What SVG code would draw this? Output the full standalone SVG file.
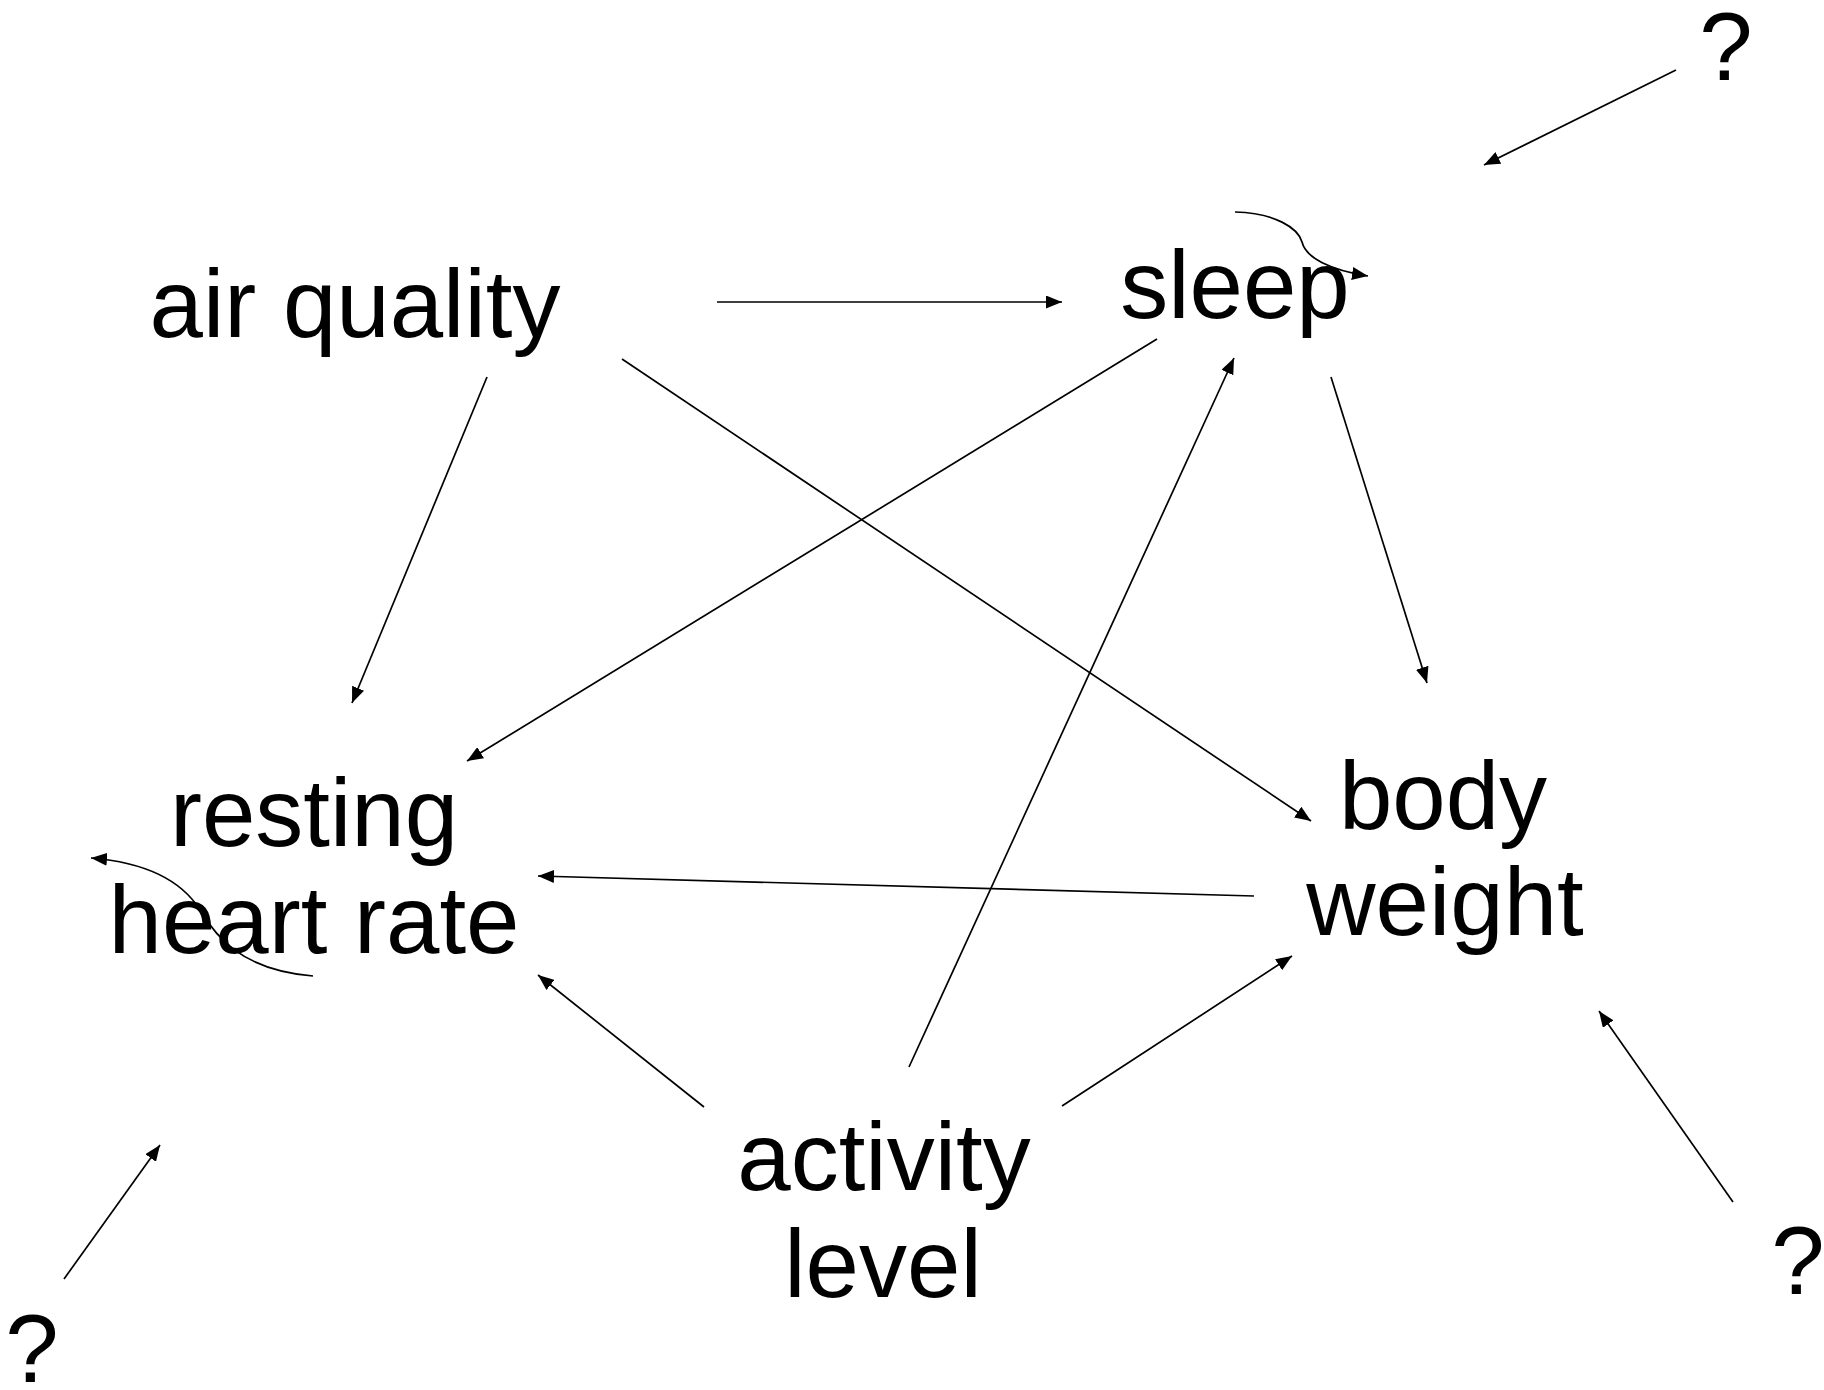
<svg xmlns="http://www.w3.org/2000/svg" width="1824" height="1390" viewBox="0 0 1824 1390">
<style>
.lbl{font-family:"Liberation Sans",Arial,sans-serif;font-size:96px;fill:#000;text-anchor:middle}
.e{stroke:#000;stroke-width:1.7;fill:none;marker-end:url(#ah)}
</style>
<defs>
<marker id="ah" markerUnits="userSpaceOnUse" markerWidth="17" markerHeight="13" refX="16" refY="6.5" orient="auto">
<path d="M0,0 L16,6.5 L0,13 z" fill="#000"/>
</marker>
</defs>
<rect width="1824" height="1390" fill="#fff"/>
<g id="connectors">
<line class="e" x1="717" y1="302" x2="1062" y2="302"/>
<line class="e" x1="487" y1="377" x2="352" y2="703"/>
<line class="e" x1="622" y1="359" x2="1311" y2="821"/>
<line class="e" x1="1157" y1="339" x2="467" y2="761"/>
<line class="e" x1="1331" y1="377" x2="1427" y2="683"/>
<line class="e" x1="909" y1="1067" x2="1234" y2="358"/>
<line class="e" x1="1254" y1="896" x2="538" y2="876"/>
<line class="e" x1="704" y1="1107" x2="538" y2="975"/>
<line class="e" x1="1062" y1="1106" x2="1292" y2="956"/>
<line class="e" x1="1676" y1="70" x2="1484" y2="165"/>
<line class="e" x1="64" y1="1279" x2="160" y2="1145"/>
<line class="e" x1="1733" y1="1202" x2="1599" y2="1011"/>
<path class="e" d="M1235,212 C1275,213 1298,228 1302,242 C1306,258 1330,270 1368,276"/>
<path class="e" d="M313,976 C240,970 215,935 200,910 C180,878 140,862 91,858"/>
</g>
<g id="air_quality"><text class="lbl" x="355" y="337">air quality</text></g>
<g id="sleep"><text class="lbl" x="1235" y="318">sleep</text></g>
<g id="resting_heart_rate"><text class="lbl" x="314" y="846">resting</text><text class="lbl" x="314" y="953">heart rate</text></g>
<g id="body_weight"><text class="lbl" x="1443" y="829">body</text><text class="lbl" x="1445" y="935">weight</text></g>
<g id="activity_level"><text class="lbl" x="884" y="1190">activity</text><text class="lbl" x="883" y="1297">level</text></g>
<g id="q1"><text class="lbl" x="1726" y="80">?</text></g>
<g id="q2"><text class="lbl" x="32" y="1382">?</text></g>
<g id="q3"><text class="lbl" x="1798" y="1294">?</text></g>
</svg>
